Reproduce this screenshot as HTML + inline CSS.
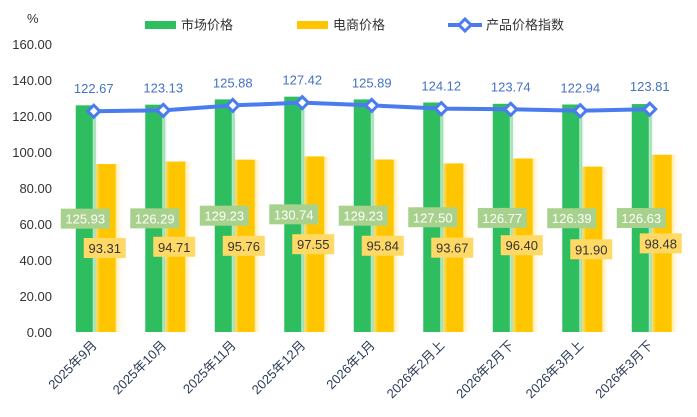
<!DOCTYPE html>
<html><head><meta charset="utf-8">
<style>
body{margin:0;background:#fff;}
svg{display:block;font-family:"Liberation Sans","Noto Sans CJK SC",sans-serif;}
</style></head>
<body>
<svg id="chart" width="697" height="417" viewBox="0 0 697 417">
<defs>
<linearGradient id="glowY" x1="0" x2="1" y1="0" y2="0"><stop offset="0" stop-color="#ffe9a0"/><stop offset="1" stop-color="#fff" stop-opacity="0"/></linearGradient>
<linearGradient id="glowG" x1="0" x2="1" y1="0" y2="0"><stop offset="0" stop-color="#bfe9cc"/><stop offset="1" stop-color="#fff" stop-opacity="0"/></linearGradient>
</defs>
<text x="27" y="23" font-size="13" fill="#333">%</text>
<g>
<g><rect x="145" y="21" width="31" height="8" fill="#2ebd5f"/><text x="181" y="29.5" font-size="13" fill="#333">市场价格</text></g>
<g><rect x="297" y="21" width="31" height="8" fill="#ffc600"/><text x="333" y="29.5" font-size="13" fill="#333">电商价格</text></g>
<g><line x1="448" y1="25" x2="482" y2="25" stroke="#4a7cf0" stroke-width="4"/><path d="M465 19 L471 25 L465 31 L459 25Z" fill="#fff" stroke="#4a7cf0" stroke-width="3"/><text x="486" y="29.5" font-size="13" fill="#333">产品价格指数</text></g>
</g>
<g id="yaxis"></g>
<g id="bars"></g>
<g id="line"></g>
<g id="xaxis"></g>
</svg>
<script>
const categories=["2025年9月","2025年10月","2025年11月","2025年12月","2026年1月","2026年2月上","2026年2月下","2026年3月上","2026年3月下"];
const marketValues=[125.93,126.29,129.23,130.74,129.23,127.50,126.77,126.39,126.63];
const ecomValues=[93.31,94.71,95.76,97.55,95.84,93.67,96.40,91.90,98.48];
const indexValues=[122.67,123.13,125.88,127.42,125.89,124.12,123.74,122.94,123.81];
const yTicks=[0,20,40,60,80,100,120,140,160];
const NS="http://www.w3.org/2000/svg";
const y0=332,yMax=160,plotH=288;
function ys(v){return y0-v/yMax*plotH;}
const bandStart=59,band=69.5;
function xc(i){return bandStart+band*(i+0.5);}
function mk(tag,attrs,parent,txt){const e=document.createElementNS(NS,tag);for(const k in attrs)e.setAttribute(k,attrs[k]);if(txt!==undefined)e.textContent=txt;parent.appendChild(e);return e;}
const ya=document.getElementById('yaxis');
yTicks.forEach(t=>{const e=mk('text',{x:52,y:ys(t)+5,'font-size':13,fill:'#333','text-anchor':'end'},ya,t.toFixed(2));

});
const bg=document.getElementById('bars');
categories.forEach((c,i)=>{const c0=xc(i);
const g=mk('rect',{x:c0-18,y:ys(marketValues[i]),width:20,height:y0-ys(marketValues[i]),fill:'#2ebd5f'},bg);


const gy=mk('rect',{x:c0+22,y:ys(ecomValues[i]),width:8,height:y0-ys(ecomValues[i]),fill:'url(#glowY)'},bg);


const y=mk('rect',{x:c0+2,y:ys(ecomValues[i]),width:20,height:y0-ys(ecomValues[i]),fill:'#ffc600'},bg);


const gm=mk('rect',{x:c0-1,y:ys(marketValues[i]),width:7,height:y0-ys(marketValues[i]),fill:'url(#glowG)'},bg);


});
categories.forEach((c,i)=>{const c0=xc(i);
const ly=ys(marketValues[i]/2);
const b1=mk('rect',{x:c0-33,y:ly-10,width:49,height:20,fill:'#a9d18e'},bg);


const t1=mk('text',{x:c0-8.5,y:ly+5,'font-size':13,fill:'#fff','text-anchor':'middle'},bg,marketValues[i].toFixed(2));


const ly2=ys(ecomValues[i]/2);
const b2=mk('rect',{x:c0-10,y:ly2-10,width:42,height:20,fill:'#ffd966'},bg);


const t2=mk('text',{x:c0+11,y:ly2+5,'font-size':13,fill:'#333','text-anchor':'middle'},bg,ecomValues[i].toFixed(2));


});
const lg=document.getElementById('line');
const pts=indexValues.map((v,i)=>xc(i)+','+ys(v)).join(' ');
const pl=mk('polyline',{points:pts,fill:'none',stroke:'#4a7cf0','stroke-width':4},lg);


indexValues.forEach((v,i)=>{const x=xc(i),y=ys(v);
const d=mk('path',{d:`M${x} ${y-6}L${x+6} ${y}L${x} ${y+6}L${x-6} ${y}Z`,fill:'#fff',stroke:'#4a7cf0','stroke-width':3},lg);


const t=mk('text',{x:x,y:y-18,'font-size':13,fill:'#4472c4','text-anchor':'middle'},lg,v.toFixed(2));


});
const xa=document.getElementById('xaxis');
categories.forEach((c,i)=>{const x=xc(i)+4,y=y0+14;
const t=mk('text',{x:x,y:y,'font-size':13,fill:'#2b3a55','text-anchor':'end',transform:`rotate(-45 ${x} ${y})`},xa,c);


});
</script>
</body></html>
